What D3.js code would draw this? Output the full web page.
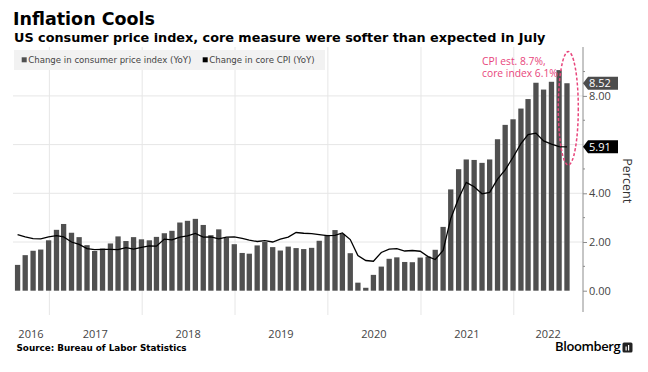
<!DOCTYPE html>
<html>
<head>
<meta charset="utf-8">
<script src="https://cdn.jsdelivr.net/npm/d3@7"></script>
<style>
  body { margin: 0; background: #fff; }
  svg { display: block; }
</style>
</head>
<body>
<div id="chart"></div>
<script>
// monthly YoY changes, Aug 2016 .. Jul 2022
const startMonth = [2016, 7];
const cpiValues = [
  1.06, 1.46, 1.64, 1.69, 2.07,
  2.50, 2.74, 2.38, 2.20, 1.87, 1.63, 1.73, 1.94, 2.23, 2.04, 2.20, 2.11,
  2.07, 2.21, 2.36, 2.46, 2.80, 2.87, 2.95, 2.70, 2.28, 2.52, 2.18, 1.91,
  1.55, 1.52, 1.86, 2.00, 1.79, 1.65, 1.81, 1.75, 1.71, 1.76, 2.05, 2.29,
  2.49, 2.33, 1.54, 0.33, 0.12, 0.65, 0.99, 1.31, 1.37, 1.18, 1.17, 1.36,
  1.40, 1.68, 2.62, 4.16, 4.99, 5.39, 5.37, 5.25, 5.39, 6.22, 6.81, 7.04,
  7.48, 7.87, 8.54, 8.26, 8.58, 9.06, 8.52
];
const coreValues = [
  2.30, 2.21, 2.14, 2.13, 2.21,
  2.26, 2.21, 2.00, 1.90, 1.73, 1.69, 1.70, 1.70, 1.69, 1.77, 1.71, 1.78,
  1.84, 1.83, 2.12, 2.09, 2.20, 2.25, 2.35, 2.20, 2.21, 2.13, 2.20, 2.21,
  2.15, 2.08, 2.02, 2.06, 2.00, 2.12, 2.20, 2.39, 2.36, 2.34, 2.30, 2.26,
  2.27, 2.37, 2.10, 1.44, 1.24, 1.21, 1.57, 1.71, 1.73, 1.63, 1.65, 1.62,
  1.40, 1.28, 1.65, 2.96, 3.80, 4.45, 4.27, 3.98, 4.04, 4.58, 4.96, 5.48,
  6.04, 6.41, 6.47, 6.15, 6.02, 5.92, 5.91
];
const years = [2016, 2017, 2018, 2019, 2020, 2021, 2022];
const yTicks = [0, 2, 4, 8];
const yGrid = [2, 4, 6, 8];
const yMinor = [1, 3, 5, 7, 9];
const legendLabels = ["Change in consumer price index (YoY)", "Change in core CPI (YoY)"];
const noteLines = ["CPI est. 8.7%,", "core index 6.1%"];

const W = 648, H = 372;
const plotLeft = 13, plotRight = 583, plotTop = 47, plotBottom = 312;
const barColor = "#505050", pink = "#e8467c";

// bars sit on month-end dates
const data = cpiValues.map((v, i) => ({
  date: new Date(startMonth[0], startMonth[1] + i + 1, 0),
  cpi: v,
  core: coreValues[i]
}));

const svg = d3.select("#chart").append("svg")
  .attr("width", W).attr("height", H);

const x = d3.scaleTime()
  .domain([new Date(2016, 7, 13), new Date(2022, 9, 2)])
  .range([plotLeft, plotRight]);
const y = d3.scaleLinear().domain([0, 10]).range([290.7, 47.2]);

// gridlines
svg.append("g")
  .selectAll("line").data(yGrid).join("line")
  .attr("x1", plotLeft).attr("x2", plotRight)
  .attr("y1", d => y(d)).attr("y2", d => y(d))
  .attr("stroke", "#e6e6e6");

const yearStarts = years.slice(1).map(yr => new Date(yr, 0, 1));
svg.append("g")
  .attr("transform", `translate(0,${plotTop})`)
  .call(d3.axisBottom(x).tickValues(yearStarts).tickSize(315 - plotTop).tickFormat(""))
  .call(g => g.select(".domain").remove())
  .call(g => g.selectAll("line").attr("stroke", "#e6e6e6"));

// bars
const bw = 5.3;
svg.append("g")
  .selectAll("rect").data(data).join("rect")
  .attr("x", d => x(d.date) - bw / 2)
  .attr("y", d => y(d.cpi))
  .attr("width", bw)
  .attr("height", d => y(0) - y(d.cpi))
  .attr("fill", barColor);

// core line
svg.append("path")
  .datum(data)
  .attr("fill", "none")
  .attr("stroke", "#000")
  .attr("stroke-width", 1.3)
  .attr("d", d3.line().x(d => x(d.date)).y(d => y(d.core)));

// legend
const leg = svg.append("g");
leg.append("rect").attr("x", 14).attr("y", 50).attr("width", 311).attr("height", 20).attr("fill", "#f2f2f2");
const legX = [21.7, 202.7];
[barColor, "#000"].forEach((c, i) => {
  leg.append("rect").attr("x", legX[i]).attr("y", 57.3).attr("width", 5).attr("height", 5).attr("fill", c);
  leg.append("text").attr("x", legX[i] + 6.5).attr("y", 63)
    .attr("font-family", "DejaVu Sans").attr("font-size", 8.6).attr("fill", "#444")
    .text(legendLabels[i]);
});

// y axis
const yAxis = svg.append("g").attr("transform", `translate(${plotRight},0)`)
  .call(d3.axisRight(y).tickValues(yTicks).tickSize(4).tickPadding(2).tickFormat(d3.format(".2f")));
yAxis.select(".domain").attr("d", `M0,${plotTop}V${plotBottom}`).attr("stroke", "#8c8c8c");
yAxis.selectAll("line").attr("stroke", "#8c8c8c");
yAxis.selectAll("text").attr("font-family", "Open Sans").attr("font-size", 11).attr("fill", "#444");
svg.append("g").selectAll("line").data(yMinor).join("line")
  .attr("x1", plotRight).attr("x2", plotRight + 2)
  .attr("y1", d => y(d)).attr("y2", d => y(d))
  .attr("stroke", "#8c8c8c");

svg.append("text")
  .attr("transform", `translate(623,180.7) rotate(90)`)
  .attr("text-anchor", "middle")
  .attr("font-family", "Open Sans").attr("font-size", 12.5).attr("fill", "#333")
  .text("Percent");

// last value badges
const last = data[data.length - 1];
[[last.cpi, "#4d4d4d"], [last.core, "#000"]].forEach(([v, c]) => {
  const yc = y(v);
  svg.append("path")
    .attr("d", `M${plotRight},${yc}L${plotRight + 5},${yc - 6.5}H618V${yc + 6.5}H${plotRight + 5}Z`)
    .attr("fill", c);
  svg.append("text").attr("x", 589).attr("y", yc + 4)
    .attr("font-family", "Open Sans").attr("font-size", 11).attr("fill", "#fff")
    .text(v.toFixed(2));
});

// year labels centred in the visible part of each year
const [d0, d1] = x.domain();
svg.append("g").selectAll("text").data(years).join("text")
  .attr("x", yr => {
    const a = d3.max([d0, new Date(yr, 0, 1)]);
    const b = d3.min([d1, new Date(yr + 1, 0, 1)]);
    return (x(a) + x(b)) / 2;
  })
  .attr("y", 337.5)
  .attr("text-anchor", "middle")
  .attr("font-family", "Open Sans").attr("font-size", 11).attr("fill", "#444")
  .text(yr => yr);

// annotation
svg.append("g").selectAll("text").data(noteLines).join("text")
  .attr("x", 482).attr("y", (d, i) => 65 + i * 11.7)
  .attr("font-family", "Open Sans").attr("font-size", 10.3).attr("fill", pink)
  .text(d => d);
svg.append("ellipse")
  .attr("cx", 568.3).attr("cy", 108.3).attr("rx", 10).attr("ry", 56.7)
  .attr("fill", "none").attr("stroke", pink).attr("stroke-width", 1.5)
  .attr("stroke-dasharray", "3,2");

// titles
svg.append("text").attr("x", 13).attr("y", 25)
  .attr("font-family", "DejaVu Sans").attr("font-weight", "bold").attr("font-size", 17.5).attr("fill", "#000")
  .text("Inflation Cools");
svg.append("text").attr("x", 14).attr("y", 41.5)
  .attr("font-family", "DejaVu Sans").attr("font-weight", "bold").attr("font-size", 12.8).attr("fill", "#000")
  .text("US consumer price index, core measure were softer than expected in July");

// footer
svg.append("text").attr("x", 16.5).attr("y", 350.7)
  .attr("font-family", "DejaVu Sans").attr("font-weight", "bold").attr("font-size", 8.8).attr("fill", "#000")
  .text("Source: Bureau of Labor Statistics");
svg.append("text").attr("x", 555).attr("y", 351)
  .attr("font-family", "Open Sans").attr("font-weight", 600).attr("font-size", 13).attr("fill", "#000")
  .attr("letter-spacing", -0.4)
  .text("Bloomberg");
const logo = svg.append("g").attr("transform", "translate(622.5,342.5)");
logo.append("rect").attr("width", 10).attr("height", 10).attr("rx", 1.5).attr("fill", "#222");
logo.append("rect").attr("x", 3).attr("y", 4).attr("width", 1.2).attr("height", 4).attr("fill", "#fff");
logo.append("rect").attr("x", 5.5).attr("y", 2.5).attr("width", 1.2).attr("height", 5.5).attr("fill", "#fff");
</script>
</body>
</html>
